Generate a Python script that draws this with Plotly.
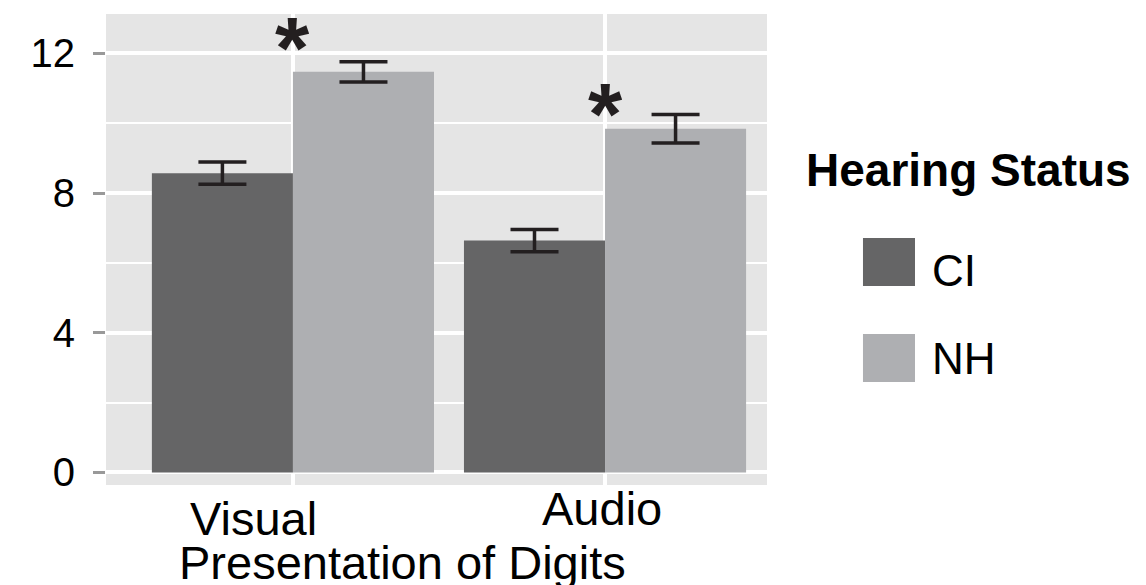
import plotly.graph_objects as go

categories = ["Visual", "Audio"]
groups = ["CI", "NH"]
ci_means = [8.57, 6.64]
ci_err = [0.32, 0.32]
nh_means = [11.47, 9.84]
nh_err = [0.29, 0.41]
sig_y = [12.52, 10.61]
y_ticks = [0, 4, 8, 12]

colors = {"CI": "#656566", "NH": "#AEAFB2"}
FONT = "Liberation Sans, Arial, sans-serif"

fig = go.Figure()
for name, vals, errs in [("CI", ci_means, ci_err), ("NH", nh_means, nh_err)]:
    fig.add_trace(go.Bar(
        x=categories, y=vals, name=name,
        marker=dict(color=colors[name], line=dict(width=0)),
        error_y=dict(type="data", array=errs, visible=True,
                     color="#231F20", thickness=3.5, width=24),
        showlegend=False,
    ))

# significance asterisks
for cat, sy in zip(categories, sig_y):
    fig.add_annotation(x=cat, y=sy, xref="x", yref="y", text="<b>*</b>",
                       showarrow=False, yanchor="middle", yshift=-12,
                       font=dict(family=FONT, size=88, color="#231F20"))

# x category labels
label_shift = {"Visual": (-39, -0.072), "Audio": (-3, -0.049)}
for cat in categories:
    xs, yp = label_shift[cat]
    fig.add_annotation(x=cat, y=yp, xref="x", yref="paper", text=cat,
                       showarrow=False, xshift=xs, yanchor="middle",
                       font=dict(family=FONT, size=47, color="black"))

# x axis title
fig.add_annotation(x=0.448, y=-0.1635, xref="paper", yref="paper",
                   text="Presentation of Digits", showarrow=False,
                   yanchor="middle", xanchor="center",
                   font=dict(family=FONT, size=47, color="black"))

# manual legend
fig.add_annotation(x=1.0555, y=0.669, xref="paper", yref="paper",
                   text="<b>Hearing Status</b>", showarrow=False,
                   xanchor="left", yanchor="middle",
                   font=dict(family=FONT, size=46, color="black"))
key_y = {"CI": (0.4225, 0.5244, 0.4544), "NH": (0.2187, 0.3206, 0.2696)}
for g in groups:
    y0, y1, ty = key_y[g]
    fig.add_shape(type="rect", xref="paper", yref="paper",
                  x0=1.1452, x1=1.2239, y0=y0, y1=y1,
                  fillcolor=colors[g], line=dict(width=0))
    fig.add_annotation(x=1.2470, y=ty, xref="paper", yref="paper",
                       text=g, showarrow=False, xanchor="left", yanchor="middle",
                       font=dict(family=FONT, size=44, color="black"))

# page body has an 8px default margin: compensate
fig.update_layout(
    width=1138, height=577,
    margin=dict(l=98, r=379, t=6, b=100, pad=0),
    paper_bgcolor="white", plot_bgcolor="#E5E5E5",
    barmode="group", bargap=0.096, bargroupgap=0,
    showlegend=False,
    font=dict(family=FONT, color="black"),
)
fig.update_xaxes(
    type="category", range=[-0.599, 1.519],
    showgrid=True, gridcolor="white", gridwidth=4,
    showticklabels=False, ticks="", zeroline=False, showline=False,
)
fig.update_yaxes(
    range=[-0.358, 13.126], tickvals=y_ticks,
    showgrid=True, gridcolor="white", gridwidth=4,
    minor=dict(tickvals=[2, 6, 10], showgrid=True, gridcolor="white", gridwidth=2),
    zeroline=False, showline=False,
    ticks="outside", ticklen=12, tickwidth=2.5, tickcolor="#999999",
    ticklabelstandoff=10,
    tickfont=dict(family=FONT, size=40, color="black"),
)

fig.write_html("out.html")
